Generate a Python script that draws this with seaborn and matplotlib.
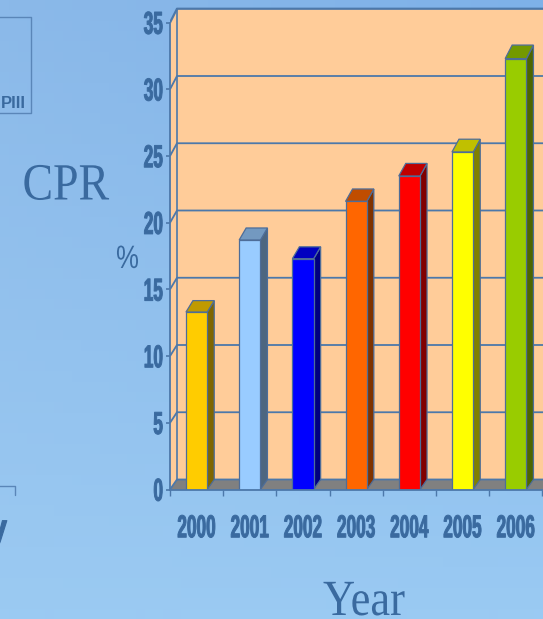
import numpy as np
import pandas as pd
import matplotlib
matplotlib.use('Agg')
import matplotlib.pyplot as plt
import seaborn as sns
from matplotlib import font_manager as fm
from matplotlib.colors import to_rgb
from matplotlib.patches import Polygon
from matplotlib.patheffects import AbstractPathEffect
from matplotlib.transforms import Affine2D

# Data
years = ['2000', '2001', '2002', '2003', '2004', '2005', '2006']
cpr = [13.3, 18.7, 17.3, 21.6, 23.5, 25.3, 32.3]
y_ticks = [0, 5, 10, 15, 20, 25, 30, 35]

front_colors = ['#FFCC00', '#99CCFF', '#0000FF', '#FF6600', '#FF0000', '#FFFF00', '#99CC00']
top_colors = ['#C09A00', '#7399C0', '#0000C0', '#C04D00', '#C00000', '#C0C000', '#739900']
side_colors = ['#806600', '#4D6680', '#000080', '#803300', '#800000', '#808000', '#4D6600']

text_col = '#3A6A9F'
line_col = '#4C78AA'
wall_col = '#FFCC99'
floor_col = '#808080'


class Stretch(AbstractPathEffect):
    # draws the glyphs taller than wide (like the stretched slide text),
    # optionally with a thin outline to make them heavier
    def __init__(self, sy, mid=36, lw=0):
        super().__init__()
        self.sy = sy
        self.mid = mid
        self.lw = lw

    def draw_path(self, renderer, gc, tpath, affine, rgbFace=None):
        t = Affine2D().translate(0, -self.mid).scale(1, self.sy).translate(0, self.mid) + affine
        gc0 = renderer.new_gc()
        gc0.copy_properties(gc)
        if self.lw:
            gc0.set_linewidth(self.lw)
            gc0.set_foreground(rgbFace)
            gc0.set_joinstyle('round')
        renderer.draw_path(gc0, tpath, t, rgbFace)
        gc0.restore()


sns.set_theme(style='white')
names = {f.name for f in fm.fontManager.ttflist}
if 'Liberation Sans Narrow' in names:
    narrow, tick_size, tick_s = 'Liberation Sans Narrow', 15, 1.52
else:
    narrow, tick_size, tick_s = 'Liberation Sans', 12.4, 1.84
plt.rcParams['font.family'] = [narrow, 'DejaVu Sans']

W, H = 543, 619
fig = plt.figure(figsize=(W / 100, H / 100), dpi=100)

# slide background
bg = fig.add_axes([0, 0, 1, 1], zorder=-10)
tl, tr, bl, br = [np.array(to_rgb(c)) for c in ['#8BB9E9', '#7EB1E8', '#9BCAF2', '#9ACAF3']]
u = np.linspace(0, 1, 60)[None, :, None]
v = np.linspace(0, 1, 60)[:, None, None]
grad = (1 - v) * ((1 - u) * tl + u * tr) + v * ((1 - u) * bl + u * br)
bg.imshow(grad, extent=[0, 1, 0, 1], aspect='auto')
bg.axis('off')

# chart area: pixels per data unit
PX, PY = 53.2, 13.34
x0, y0 = 170, 489.5
xmax = -0.5 + (W - x0) / PX
ymax = 36.6
ax = fig.add_axes([x0 / W, (H - y0) / H, (W - x0) / W, ymax * PY / H])
ax.patch.set_visible(False)

df = pd.DataFrame({'Year': years, 'CPR': cpr})
sns.barplot(data=df, x='Year', y='CPR', hue='Year', palette=front_colors, legend=False,
            width=0.4, saturation=1, edgecolor='#4D6D99', linewidth=0.9, ax=ax, zorder=6)
ax.set_xlim(-0.5, xmax)
ax.set_ylim(0, ymax)


def depth(val):
    return (10 + 0.11 * val) / PY


wdx = 7 / PX
top_v = y_ticks[-1]
ax.add_patch(Polygon([(-0.5 + wdx, depth(0)), (xmax + 1, depth(0)),
                      (xmax + 1, top_v + depth(top_v)), (-0.5 + wdx, top_v + depth(top_v))],
                     closed=True, facecolor=wall_col, edgecolor='none', zorder=1))
ax.add_patch(Polygon([(-0.5, 0), (-0.5, top_v), (-0.5 + wdx, top_v + depth(top_v)),
                      (-0.5 + wdx, depth(0))],
                     closed=True, facecolor=wall_col, edgecolor='none', zorder=1))
ax.add_patch(Polygon([(-0.5, 0), (xmax + 1, 0), (xmax + 1, depth(0)), (-0.5 + wdx, depth(0))],
                     closed=True, facecolor=floor_col, edgecolor='none', zorder=2))
for t in y_ticks:
    ax.plot([-0.5, -0.5 + wdx, xmax + 1], [t, t + depth(t), t + depth(t)],
            color=line_col, lw=1.6 if t == top_v else 1.3, zorder=3, solid_capstyle='butt')
ax.plot([-0.5 + wdx] * 2, [depth(0), top_v + depth(top_v)], color=line_col, lw=1.2, zorder=3)

# side and top faces of each bar
bars = sorted([p for p in ax.patches if p.get_zorder() == 6], key=lambda p: p.get_x())
bdx = 7 / PX
for p, tc, sc in zip(bars, top_colors, side_colors):
    x, w, h = p.get_x(), p.get_width(), p.get_height()
    ax.add_patch(Polygon([(x + w, 0), (x + w, h), (x + w + bdx, h + depth(h)), (x + w + bdx, depth(0))],
                         closed=True, facecolor=sc, edgecolor='#4D6D99', lw=0.9, zorder=5))
    ax.add_patch(Polygon([(x, h), (x + w, h), (x + w + bdx, h + depth(h)), (x + bdx, h + depth(h))],
                         closed=True, facecolor=tc, edgecolor='#4D6D99', lw=0.9, zorder=5))

# axes lines and ticks
for s in ['top', 'right']:
    ax.spines[s].set_visible(False)
for s in ['left', 'bottom']:
    ax.spines[s].set_color(line_col)
    ax.spines[s].set_linewidth(1.3)
    ax.spines[s].set_zorder(7)
ax.spines['left'].set_bounds(0, top_v)

ax.set_yticks(y_ticks, labels=[str(t) for t in y_ticks])
ax.set_xticks([i - 0.5 for i in range(len(years) + 1)], labels=[''] * (len(years) + 1))
ax.set_xticks(range(len(years)), labels=years, minor=True)
ax.tick_params(axis='y', direction='out', length=3, width=1.2, color=line_col, pad=2,
               left=True, labelcolor=text_col, labelsize=tick_size)
ax.tick_params(axis='x', which='major', direction='out', length=4.5, width=1, color=line_col, bottom=True)
ax.tick_params(axis='x', which='minor', length=0, pad=22, labelcolor=text_col, labelsize=tick_size)
for lab in ax.get_yticklabels() + ax.get_xticklabels(minor=True):
    lab.set_fontweight('bold')
    lab.set_path_effects([Stretch(tick_s, lw=0.7)])
ax.set_xlabel('')
ax.set_ylabel('')

# slide texts around the chart
fig.text(22.5 / W, 1 - 199.5 / H, 'CPR', family=['Liberation Serif', 'DejaVu Serif'], fontsize=33,
         color=text_col, ha='left', va='baseline', path_effects=[Stretch(1.14, 0)])
fig.text(364 / W, 1 - 615 / H, 'Year', family=['Liberation Serif', 'DejaVu Serif'], fontsize=32,
         color=text_col, ha='center', va='baseline', path_effects=[Stretch(1.14, 0)])
fig.text(127.5 / W, 1 - 268 / H, '%', fontsize=18.5, color=text_col, ha='center', va='baseline',
         path_effects=[Stretch(1.26, 0)])
fig.text(25.5 / W, 1 - 107.5 / H, 'PIII', family=['Liberation Sans', 'DejaVu Sans'], fontsize=12,
         fontweight='bold', color=text_col, ha='right', va='baseline')
fig.text(7 / W, 1 - 540 / H, 'y', fontsize=22, fontweight='bold', color=text_col,
         ha='right', va='baseline', path_effects=[Stretch(1.2, 0, lw=0.8)])

box_col = '#5A86B8'
fig.add_artist(plt.Line2D(np.array([-2, 30.7, 30.7, -2]) / W, 1 - np.array([17.3, 17.3, 112.7, 112.7]) / H,
                          transform=fig.transFigure, color=box_col, lw=1))
fig.add_artist(plt.Line2D(np.array([-2, 15, 15]) / W, 1 - np.array([485.7, 485.7, 495]) / H,
                          transform=fig.transFigure, color=box_col, lw=1))

fig.savefig('out.png', dpi=100)
